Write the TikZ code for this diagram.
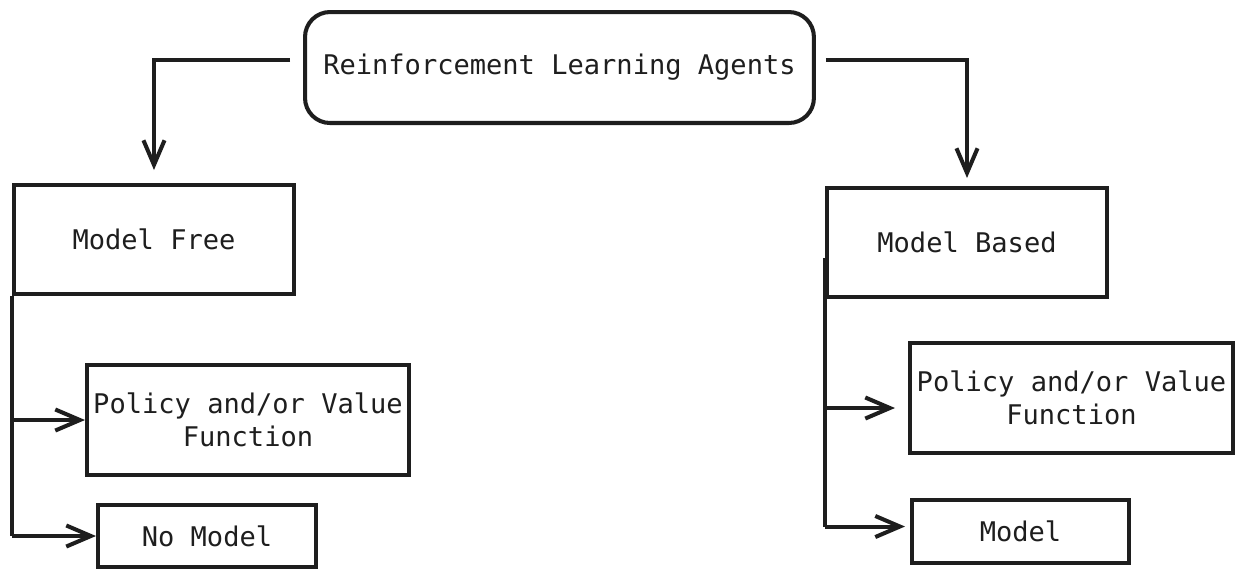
\documentclass[tikz,border=0pt]{standalone}
\usepackage{fontspec}
\setmonofont{DejaVu Sans Mono}
\usetikzlibrary{arrows.meta,positioning,calc}
\definecolor{inkdark}{HTML}{1E1E1E}

\begin{document}
\begin{tikzpicture}[x=0.02cm, y=-0.02cm,
  box/.style={draw=inkdark, line width=2.3pt, anchor=north west, inner sep=0pt, align=center,
    font=\ttfamily\fontsize{15.4}{18.8}\selectfont, text=inkdark},
  trunk/.style={draw=inkdark, line width=2.3pt},
  arr/.style={draw=inkdark, line width=2.3pt, -{Straight Barb[length=14pt,width=12pt,line width=2.3pt]}}]
% RL agents taxonomy
\useasboundingbox (0,0) rectangle (1241,575);
\node[box, rounded corners=0.5cm, minimum width=10.18cm, minimum height=2.22cm] (root) at (303,10) {Reinforcement Learning Agents};
\node[box, minimum width=5.6cm, minimum height=2.18cm] (mf) at (12,183) {Model Free};
\node[box, minimum width=5.6cm, minimum height=2.18cm] (mb) at (825,186) {Model Based};
\node[box, minimum width=6.44cm, minimum height=2.2cm] (pf) at (85,363) {Policy and/or Value\\Function};
\node[box, minimum width=4.36cm, minimum height=1.24cm] (nm) at (96,503) {No Model};
\node[box, minimum width=6.46cm, minimum height=2.2cm] (pb) at (908,341) {Policy and/or Value\\Function};
\node[box, minimum width=4.34cm, minimum height=1.26cm] (md) at (910,498) {Model};

\draw[arr] ([xshift=-0.26cm,yshift=0.15cm]root.west) -| ([yshift=0.26cm]mf.north);
\draw[arr] ([xshift=0.2cm,yshift=0.15cm]root.east) -| ([yshift=0.16cm]mb.north);

\draw[trunk] (mf.south west) -- (mf.south west |- nm.west);
\draw[arr] (mf.south west |- pf.west) -- (pf.west);
\draw[arr] (mf.south west |- nm.west) -- (nm.west);

\draw[trunk] ([yshift=-0.3cm]mb.west) -- ([yshift=0.1cm]mb.west |- md.west);
\draw[arr] ([yshift=-0.2cm]mb.west |- pb.west) -- ([xshift=-0.26cm,yshift=-0.2cm]pb.west);
\draw[arr] ([yshift=0.1cm]mb.west |- md.west) -- ([xshift=-0.1cm,yshift=0.1cm]md.west);
\end{tikzpicture}
\end{document}
